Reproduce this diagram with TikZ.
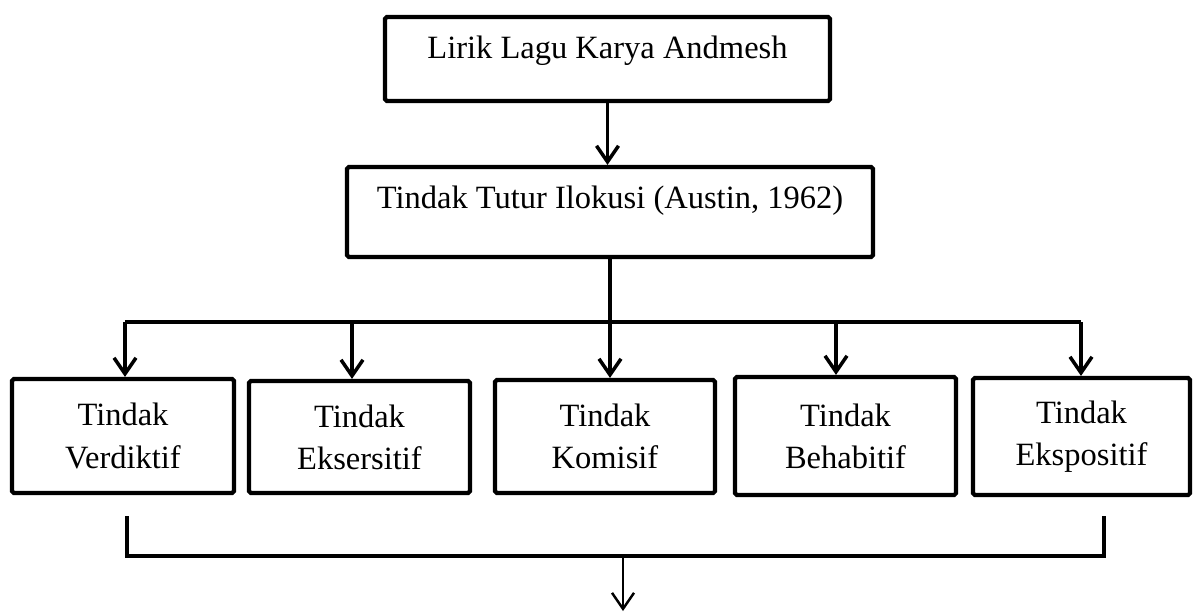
\documentclass[tikz,border=0pt]{standalone}
\usepackage{fontspec}
\setmainfont{Liberation Serif}
\usetikzlibrary{arrows.meta,positioning,calc}
\tikzset{
  kotak/.style={rectangle, rounded corners=1pt, draw=black, line width=2.4pt, fill=white,
                align=center, font=\fontsize{18.5}{24}\selectfont, inner sep=0pt},
  garis/.style={line width=2pt, draw=black},
  arr/.style={-{Straight Barb[length=3.2mm, width=4.4mm]}, line width=2pt, draw=black},
}

\begin{document}
\begin{tikzpicture}[x=0.02cm, y=-0.02cm]
\useasboundingbox (0,0) rectangle (1193,613);
% judul atas
\node[kotak, minimum width=8.9cm, minimum height=1.68cm, text height=13pt, text depth=14pt] (lirik) at (607.5,59) {Lirik Lagu Karya Andmesh};
\node[kotak, minimum width=10.52cm, minimum height=1.8cm, text height=13pt, text depth=16.5pt] (ilokusi) at (610,212) {Tindak Tutur Ilokusi (Austin, 1962)};
\draw[arr] (lirik.south) -- (lirik.south |- ilokusi.north);
% lima jenis tindak
\node[kotak, minimum width=4.44cm, minimum height=2.28cm] (verdiktif) at (123,436) {Tindak\\Verdiktif};
\node[kotak, minimum width=4.42cm, minimum height=2.24cm] (eksersitif) at (359.5,437) {Tindak\\Eksersitif};
\node[kotak, minimum width=4.4cm, minimum height=2.26cm] (komisif) at (605,436.5) {Tindak\\Komisif};
\node[kotak, minimum width=4.42cm, minimum height=2.36cm] (behabitif) at (845.5,436) {Tindak\\Behabitif};
\node[kotak, minimum width=4.34cm, minimum height=2.34cm] (ekspositif) at (1081.5,436.5) {Tindak\\Ekspositif};
% cabang
\coordinate (cab1) at (125,322);
\coordinate (cab2) at (352,322);
\coordinate (cab4) at (836,322);
\coordinate (cab5) at (1081,322);
\draw[garis] (cab1) -- (cab5);
\foreach \c/\n in {cab1/verdiktif, cab2/eksersitif, cab4/behabitif, cab5/ekspositif}
  \draw[arr] (\c) -- (\c |- \n.north);
\draw[arr] (ilokusi.south) -- (ilokusi.south |- komisif.north);
% kurung bawah
\coordinate (kurungL) at (127,516);
\coordinate (kurungR) at (1104,516);
\coordinate (kurungM) at (623,556);
\coordinate (akhir) at (623,611);
\draw[garis] (kurungL) -- (kurungL |- kurungM) -- (kurungR |- kurungM) -- (kurungR);
\draw[arr, line width=1.4pt] (kurungM) -- (akhir);
\end{tikzpicture}
\end{document}
